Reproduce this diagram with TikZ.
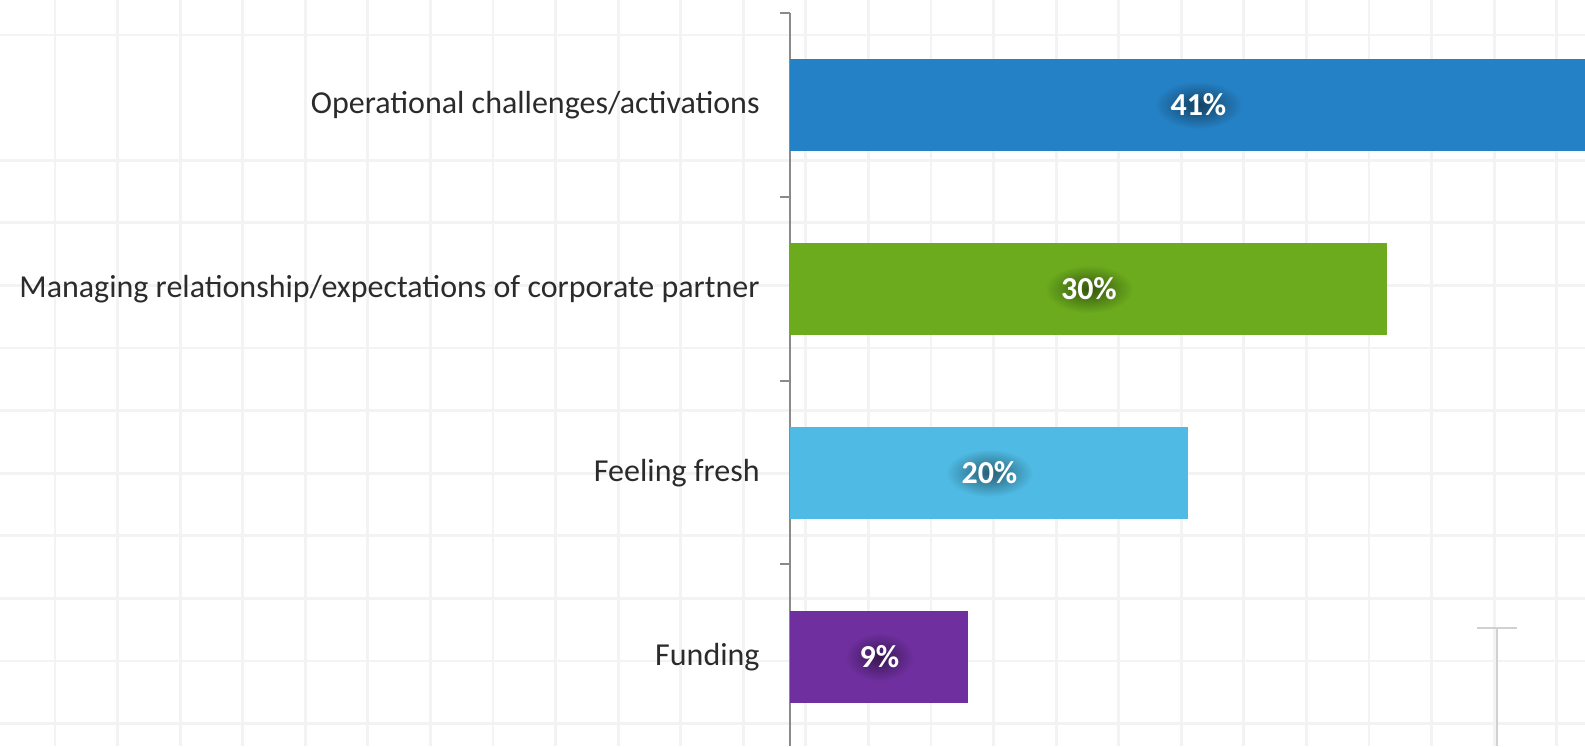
\documentclass[tikz,border=0pt]{standalone}
\usepackage{fontspec}
\setmainfont{Carlito}
\usetikzlibrary{positioning}

\definecolor{gridgray}{HTML}{F3F3F3}
\definecolor{axisgray}{HTML}{8A8A8A}
\definecolor{labelgray}{HTML}{2B2B2B}
\definecolor{opblue}{HTML}{2581C5}
\definecolor{relgreen}{HTML}{6BAB1D}
\definecolor{freshblue}{HTML}{4FBBE4}
\definecolor{fundpurple}{HTML}{6F2F9F}

% white percentage with a dark glow behind it
\newcommand{\glowpct}[5]{%
  \shade[inner color=#3!50!black,outer color=#3] (#1) ellipse (#5 and 12pt);
  \node[pct,anchor=base] (#4) at ([yshift=-5.25pt]#1) {#2};
}

\begin{document}
\begin{tikzpicture}[x=0.5pt,y=-0.5pt,
    gridline/.style={draw=gridgray,line width=1.4pt},
    axisline/.style={draw=axisgray,line width=0.8pt},
    bar/.style={rectangle,minimum height=46pt,inner sep=0pt,anchor=west},
    catlabel/.style={anchor=base east,text=labelgray,inner sep=0pt,
      font=\fontsize{16}{19}\selectfont},
    pct/.style={text=white,inner sep=0pt,
      font=\fontsize{16}{19}\selectfont\bfseries}]
  \useasboundingbox (0,0) rectangle (1585,746);
  \clip (0,0) rectangle (1585,746);

  % background grid
  \foreach \gx in {0,...,24}
    \draw[gridline] ({55+62.57*\gx},0) -- ({55+62.57*\gx},746);
  \foreach \gy in {0,2,3,...,11}
    \draw[gridline] (0,{35+62.6*\gy}) -- (1585,{35+62.6*\gy});

  % stray marker, lower right
  \draw[draw=black!18,line width=0.8pt] (1477,628) -- (1517,628);
  \draw[draw=black!18,line width=0.8pt] (1497,628) -- (1497,746);

  % category axis
  \coordinate (axtop) at (790,13);
  \coordinate (axbot) at (790,746);
  \draw[axisline] (axtop) -- (axbot);
  \foreach \ty in {13,197,381,564}
    \draw[axisline] (780,\ty) -- (790,\ty);

  % bars (9.95pt per percent)
  \node[bar,fill=opblue,minimum width=408pt] (bar1) at (790,105) {};
  \node[bar,fill=relgreen,minimum width=298.5pt] (bar2) at (790,289) {};
  \node[bar,fill=freshblue,minimum width=199pt] (bar3) at (790,473) {};
  \node[bar,fill=fundpurple,minimum width=89pt] (bar4) at (790,657) {};

  \glowpct{bar1.center}{41\%}{opblue}{pct1}{22pt}
  \glowpct{bar2.center}{30\%}{relgreen}{pct2}{22pt}
  \glowpct{bar3.center}{20\%}{freshblue}{pct3}{22pt}
  \glowpct{bar4.center}{9\%}{fundpurple}{pct4}{17pt}

  % category labels
  \node[catlabel] (cat1) at (760,113) {Operational challenges/activations};
  \node[catlabel] (cat2) at (760,297) {Managing relationship/expectations of corporate partner};
  \node[catlabel] (cat3) at (760,481) {Feeling fresh};
  \node[catlabel] (cat4) at (760,665) {Funding};
\end{tikzpicture}
\end{document}
